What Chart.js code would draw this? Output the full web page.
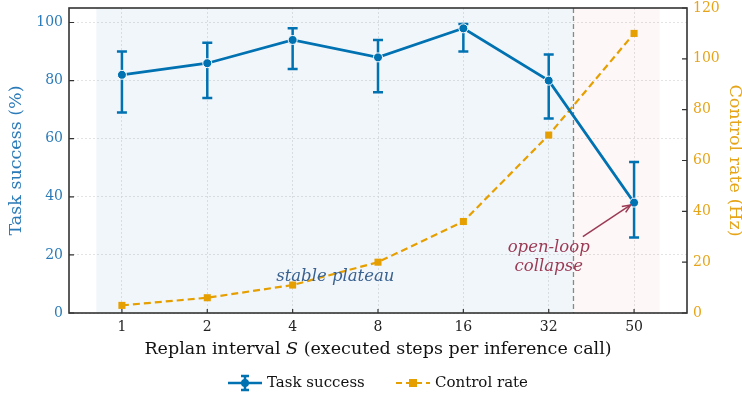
<!DOCTYPE html>
<html>
<head>
<meta charset="utf-8">
<script src="https://cdn.jsdelivr.net/npm/chart.js@4"></script>
<style>
  html, body { margin: 0; padding: 0; background: #fff; }
  #wrap { width: 742px; height: 394px; position: relative; }
</style>
</head>
<body>
<div id="wrap"><canvas id="chart" width="742" height="394"></canvas></div>
<script>
// data
const intervals = ['1', '2', '4', '8', '16', '32', '50'];
const successMean = [82, 86, 94, 88, 98, 80, 38];
const successLow = [69, 74, 84, 76, 90, 67, 26];
const successHigh = [90, 93, 98, 94, 99.5, 89, 52];
const controlRate = [3, 6, 11, 20, 36, 70, 110];
const leftTicks = [0, 20, 40, 60, 80, 100];
const rightTicks = [0, 20, 40, 60, 80, 100, 120];

const BLUE = '#0072B2';
const ORANGE = '#E69F00';
const SERIF = '"DejaVu Serif", serif';

// shaded regions, error bars, frame, annotations, x title, legend
const decor = {
    id: 'decor',
    beforeDatasetsDraw(chart) {
        const { ctx, chartArea: a, scales } = chart;
        const x = scales.x;
        ctx.save();
        const x0 = x.getPixelForValue(-0.3);
        const xs = x.getPixelForValue(5.29);
        const x1 = x.getPixelForValue(6.3);
        ctx.fillStyle = 'rgba(0,90,160,0.055)';
        ctx.fillRect(x0, a.top, xs - x0, a.bottom - a.top);
        ctx.fillStyle = 'rgba(200,60,60,0.045)';
        ctx.fillRect(xs, a.top, x1 - xs, a.bottom - a.top);
        ctx.strokeStyle = '#888';
        ctx.lineWidth = 1.3;
        ctx.setLineDash([5, 3]);
        ctx.beginPath();
        ctx.moveTo(xs, a.top);
        ctx.lineTo(xs, a.bottom);
        ctx.stroke();
        ctx.setLineDash([]);

        // error bars
        const y = scales.y;
        ctx.strokeStyle = BLUE;
        ctx.lineWidth = 2.5;
        successMean.forEach((m, i) => {
            const px = x.getPixelForValue(i);
            const lo = y.getPixelForValue(successLow[i]);
            const hi = y.getPixelForValue(successHigh[i]);
            ctx.beginPath();
            ctx.moveTo(px, lo); ctx.lineTo(px, hi);
            ctx.moveTo(px - 5, lo); ctx.lineTo(px + 5, lo);
            ctx.moveTo(px - 5, hi); ctx.lineTo(px + 5, hi);
            ctx.stroke();
        });
        ctx.restore();
    },
    afterDraw(chart) {
        const { ctx, chartArea: a, scales } = chart;
        const x = scales.x, y = scales.y, y2 = scales.y2;
        ctx.save();

        // inward ticks
        ctx.strokeStyle = '#333';
        ctx.lineWidth = 1.2;
        ctx.beginPath();
        leftTicks.forEach(v => {
            const py = y.getPixelForValue(v);
            ctx.moveTo(a.left, py); ctx.lineTo(a.left + 5, py);
        });
        rightTicks.forEach(v => {
            const py = y2.getPixelForValue(v);
            ctx.moveTo(a.right, py); ctx.lineTo(a.right - 5, py);
        });
        intervals.forEach((_, i) => {
            const px = x.getPixelForValue(i);
            ctx.moveTo(px, a.bottom); ctx.lineTo(px, a.bottom - 4);
        });
        ctx.stroke();

        // frame
        ctx.strokeStyle = '#333';
        ctx.lineWidth = 1.6;
        ctx.strokeRect(a.left, a.top, a.right - a.left, a.bottom - a.top);

        // annotations
        ctx.font = 'italic 16.5px ' + SERIF;
        ctx.textAlign = 'center';
        ctx.textBaseline = 'middle';
        ctx.fillStyle = '#3a6290';
        ctx.fillText('stable plateau', x.getPixelForValue(2.5), y.getPixelForValue(12.4));
        ctx.fillStyle = '#9b3a55';
        ctx.fillText('open-loop', x.getPixelForValue(5.0), y.getPixelForValue(22.5));
        ctx.fillText('collapse', x.getPixelForValue(5.0), y.getPixelForValue(15.8));

        // arrow
        const ax0 = x.getPixelForValue(5.4), ay0 = y.getPixelForValue(26.3);
        const ax1 = x.getPixelForValue(5.96), ay1 = y.getPixelForValue(37.2);
        ctx.strokeStyle = '#9b3a55';
        ctx.lineWidth = 1.5;
        ctx.beginPath();
        ctx.moveTo(ax0, ay0); ctx.lineTo(ax1, ay1);
        ctx.stroke();
        const ang = Math.atan2(ay1 - ay0, ax1 - ax0);
        ctx.beginPath();
        ctx.moveTo(ax1 - 9 * Math.cos(ang - 0.4), ay1 - 9 * Math.sin(ang - 0.4));
        ctx.lineTo(ax1, ay1);
        ctx.lineTo(ax1 - 9 * Math.cos(ang + 0.4), ay1 - 9 * Math.sin(ang + 0.4));
        ctx.stroke();

        // x title with italic S
        ctx.fillStyle = '#111';
        ctx.textBaseline = 'middle';
        ctx.textAlign = 'left';
        const partA = 'Replan interval ';
        const partS = 'S';
        const partB = ' (executed steps per inference call)';
        const fN = '17.5px ' + SERIF, fI = 'italic 17.5px ' + SERIF;
        ctx.font = fN; const wA = ctx.measureText(partA).width, wB = ctx.measureText(partB).width;
        ctx.font = fI; const wS = ctx.measureText(partS).width;
        let tx = (a.left + a.right) / 2 - (wA + wS + wB) / 2;
        const ty = 349;
        ctx.font = fN; ctx.fillText(partA, tx, ty); tx += wA;
        ctx.font = fI; ctx.fillText(partS, tx, ty); tx += wS;
        ctx.font = fN; ctx.fillText(partB, tx, ty);

        // legend
        const ly = 383;
        ctx.font = '15px ' + SERIF;
        ctx.textBaseline = 'middle';
        // task success
        ctx.strokeStyle = BLUE; ctx.lineWidth = 2.5;
        ctx.beginPath(); ctx.moveTo(228, ly); ctx.lineTo(262, ly);
        ctx.moveTo(245, ly - 7); ctx.lineTo(245, ly + 7);
        ctx.moveTo(241, ly - 7); ctx.lineTo(249, ly - 7);
        ctx.moveTo(241, ly + 7); ctx.lineTo(249, ly + 7);
        ctx.stroke();
        ctx.fillStyle = BLUE;
        ctx.beginPath(); ctx.arc(245, ly, 4, 0, Math.PI * 2); ctx.fill();
        ctx.fillStyle = '#111';
        ctx.fillText('Task success', 267, ly);
        // control rate
        ctx.strokeStyle = ORANGE; ctx.lineWidth = 2;
        ctx.setLineDash([6, 4]);
        ctx.beginPath(); ctx.moveTo(396, ly); ctx.lineTo(430, ly); ctx.stroke();
        ctx.setLineDash([]);
        ctx.fillStyle = ORANGE;
        ctx.fillRect(409, ly - 4, 8, 8);
        ctx.fillStyle = '#111';
        ctx.fillText('Control rate', 435, ly);
        ctx.restore();
    }
};

new Chart(document.getElementById('chart').getContext('2d'), {
    type: 'line',
    data: {
        datasets: [
            {
                label: 'Task success',
                data: successMean.map((v, i) => ({ x: i, y: v })),
                yAxisID: 'y',
                borderColor: BLUE,
                backgroundColor: BLUE,
                borderWidth: 2.7,
                pointRadius: 4.5,
                pointBorderColor: '#fff',
                pointBorderWidth: 1,
                pointBackgroundColor: BLUE,
                tension: 0,
                order: 1
            },
            {
                label: 'Control rate',
                data: controlRate.map((v, i) => ({ x: i, y: v })),
                yAxisID: 'y2',
                borderColor: ORANGE,
                backgroundColor: ORANGE,
                borderWidth: 2.2,
                borderDash: [7, 4],
                pointStyle: 'rect',
                pointRadius: 5,
                pointBorderWidth: 0,
                pointBackgroundColor: ORANGE,
                tension: 0,
                order: 2
            }
        ]
    },
    options: {
        responsive: false,
        animation: false,
        layout: { padding: { top: 8, left: 0, right: 0, bottom: 0 } },
        plugins: { legend: { display: false }, tooltip: { enabled: false } },
        scales: {
            x: {
                type: 'linear',
                min: -0.62,
                max: 6.62,
                afterBuildTicks: s => { s.ticks = intervals.map((_, i) => ({ value: i })); },
                afterFit: s => { s.height = 81; },
                ticks: {
                    callback: v => intervals[v],
                    color: '#222',
                    font: { family: SERIF, size: 14 },
                    padding: 6,
                    maxRotation: 0
                },
                grid: { color: '#dcdcdc', lineWidth: 0.8, drawTicks: false },
                border: { display: false, dash: [2, 2] }
            },
            y: {
                position: 'left',
                min: 0,
                max: 105,
                afterBuildTicks: s => { s.ticks = leftTicks.map(v => ({ value: v })); },
                afterFit: s => { s.width = 69; s.paddingTop = 0; s.paddingBottom = 0; },
                ticks: {
                    color: '#2b7bb9',
                    font: { family: SERIF, size: 14 },
                    padding: 6
                },
                title: {
                    display: true,
                    text: 'Task success (%)',
                    color: '#2b7bb9',
                    font: { family: SERIF, size: 17.5 },
                    padding: { top: 6, bottom: 4 }
                },
                grid: { color: '#dcdcdc', lineWidth: 0.8, drawTicks: false },
                border: { display: false, dash: [2, 2] }
            },
            y2: {
                position: 'right',
                min: 0,
                max: 120,
                afterBuildTicks: s => { s.ticks = rightTicks.map(v => ({ value: v })); },
                afterFit: s => { s.width = 55; s.paddingTop = 0; s.paddingBottom = 0; },
                ticks: {
                    color: '#e6a519',
                    font: { family: SERIF, size: 14 },
                    padding: 6
                },
                title: {
                    display: true,
                    text: 'Control rate (Hz)',
                    color: '#e6a519',
                    font: { family: SERIF, size: 17.5, lineHeight: 1 },
                    padding: { top: -1, bottom: 4 }
                },
                grid: { display: false, drawTicks: false },
                border: { display: false }
            }
        }
    },
    plugins: [decor]
});
</script>
</body>
</html>
